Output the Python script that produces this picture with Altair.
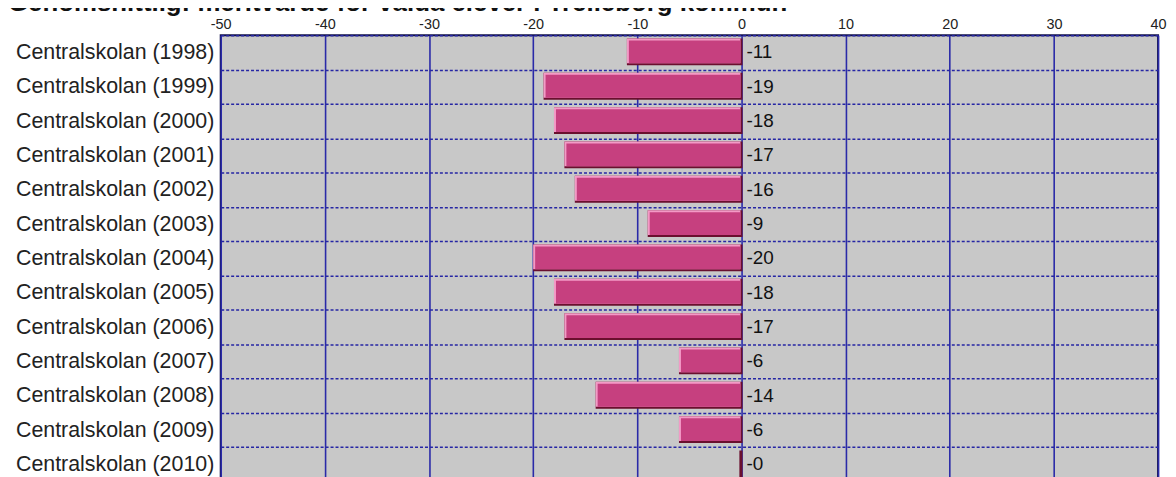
import altair as alt
import pandas as pd

title_text = "Genomsnittlig: meritvärde för valda elever i Trelleborg kommun"
schools = [
    "Centralskolan (1998)", "Centralskolan (1999)", "Centralskolan (2000)",
    "Centralskolan (2001)", "Centralskolan (2002)", "Centralskolan (2003)",
    "Centralskolan (2004)", "Centralskolan (2005)", "Centralskolan (2006)",
    "Centralskolan (2007)", "Centralskolan (2008)", "Centralskolan (2009)",
    "Centralskolan (2010)",
]
values = [-11, -19, -18, -17, -16, -9, -20, -18, -17, -6, -14, -6, -0.2]
value_labels = ["-11", "-19", "-18", "-17", "-16", "-9", "-20", "-18", "-17",
                "-6", "-14", "-6", "-0"]
x_ticks = [-50, -40, -30, -20, -10, 0, 10, 20, 30, 40]

df = pd.DataFrame({"school": schools, "value": values, "label": value_labels})
df["zero"] = 0

FONT = "Liberation Sans"

y_enc = alt.Y(
    "school:N", sort=schools,
    scale=alt.Scale(paddingInner=0, paddingOuter=0),
    axis=alt.Axis(title=None, domain=False, ticks=False, grid=True,
                  tickBand="extent", gridDash=[3, 2], gridColor="#2626a4",
                  gridWidth=1.5, labelFontSize=21.5, labelFont=FONT,
                  labelColor="#222222", labelPadding=7, labelLimit=400),
)
x_enc = alt.X(
    "value:Q",
    scale=alt.Scale(domain=[-50, 40], nice=False, zero=False),
    axis=alt.Axis(orient="top", values=x_ticks, tickSize=0, labelPadding=4,
                  labelFontSize=14.5, labelFont=FONT, labelColor="#222222",
                  grid=True, gridColor="#2a2aa8", gridWidth=1.6, domain=False,
                  title=None, labelFlush=False, labelExpr="'' + datum.value"),
)

base = alt.Chart(df).encode(y=y_enc)

dark = base.mark_bar(color="#6a0f2e", size=27, yOffset=-0.5, x2Offset=1).encode(
    x=x_enc, x2="zero:Q")
light = base.transform_filter("datum.value < -0.5").mark_bar(
    color="#f39ac6", size=25, yOffset=-1.5, x2Offset=-1).encode(
    x="value:Q", x2="zero:Q")
fill = base.transform_filter("datum.value < -0.5").mark_bar(
    color="#c6407f", size=23, yOffset=-0.5, xOffset=2, x2Offset=-1).encode(
    x="value:Q", x2="zero:Q")
text = base.mark_text(align="left", baseline="middle", dx=5, fontSize=19,
                      font=FONT, color="#111111").encode(
    x="zero:Q", text="label:N")

title = alt.Chart(pd.DataFrame({"t": [title_text]})).mark_text(
    align="left", baseline="alphabetic", fontSize=26, fontWeight="bold",
    font=FONT, color="#111111").encode(
    x=alt.value(-214), y=alt.value(-24), text="t:N")

chart = alt.layer(dark, light, fill, text, title).properties(
    width=943, height=449,
    padding={"left": 214, "top": 26, "right": 10, "bottom": 0},
    autosize=alt.AutoSizeParams(type="none"),
).configure(
    background="white",
    view=alt.ViewConfig(fill="#c8c8c8", stroke="#12124a", strokeWidth=2),
)

chart.save("out.html", embed_options={"renderer": "svg", "actions": False})
